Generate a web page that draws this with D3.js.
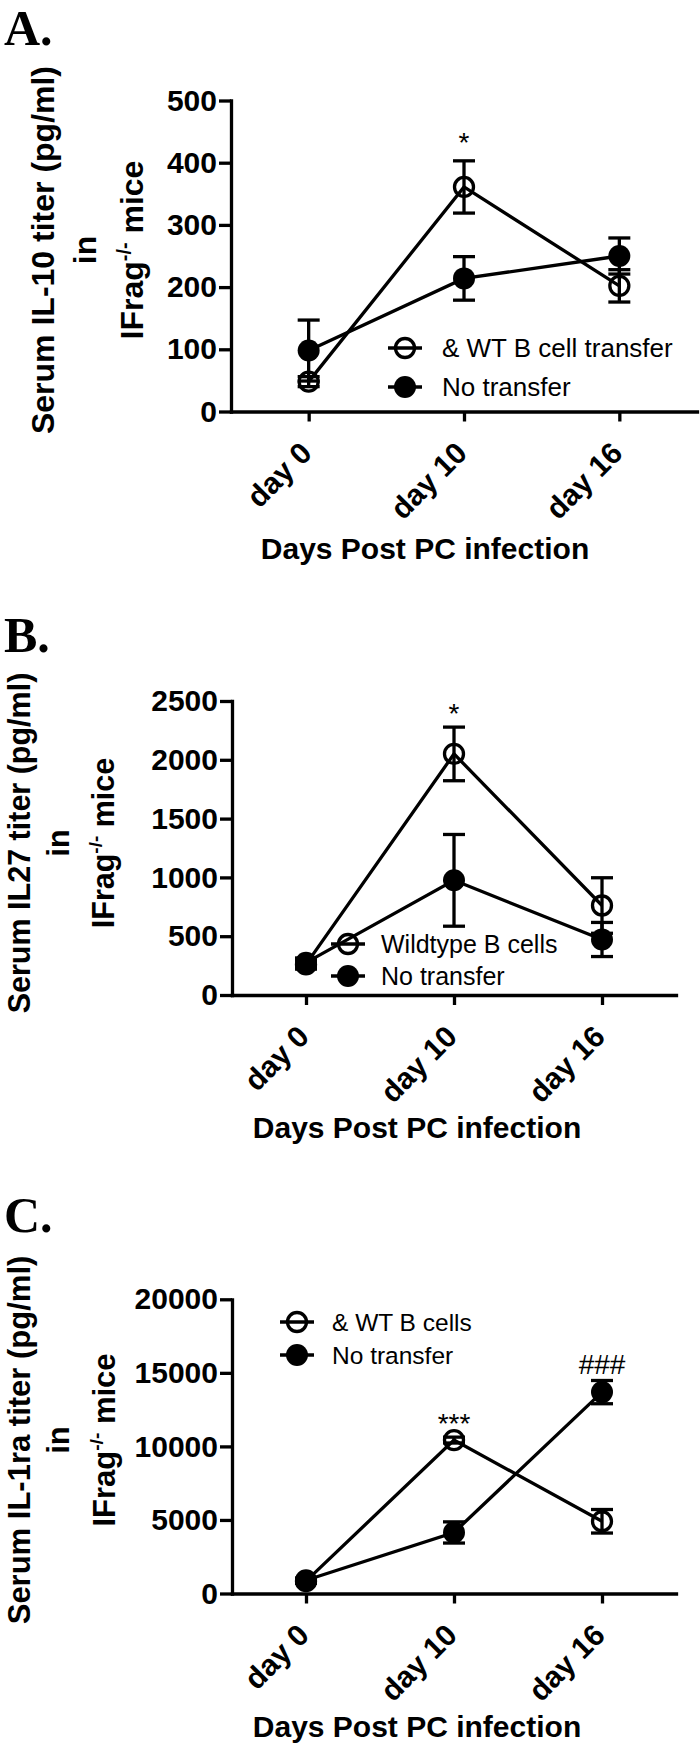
<!DOCTYPE html>
<html>
<head>
<meta charset="utf-8">
<script src="https://cdnjs.cloudflare.com/ajax/libs/d3/7.8.5/d3.min.js"></script>
<style>
body { margin: 0; background: #fff; }
svg { display: block; }
text { font-family: "Liberation Sans", Arial, sans-serif; fill: #000; }
.axis path, .axis line { stroke: #000; stroke-width: 3.3; }
.axis text { font-size: 30px; font-weight: bold; }
</style>
</head>
<body>
<svg width="700" height="1747"></svg>
<script>
var days = ["day 0", "day 10", "day 16"];

// A. serum IL-10
var il10Ticks = [0, 100, 200, 300, 400, 500];
var il10Wt = [48, 361, 202], il10WtErr = [8, 42, 26];
var il10No = [98, 214, 250], il10NoErr = [49, 35, 29];

// B. serum IL27
var il27Ticks = [0, 500, 1000, 1500, 2000, 2500];
var il27Wt = [260, 2050, 761], il27WtErr = [40, 228, 236];
var il27No = [275, 975, 472], il27NoErr = [40, 390, 145];

// C. serum IL-1ra
var il1raTicks = [0, 5000, 10000, 15000, 20000];
var il1raWt = [840, 10430, 4910], il1raWtErr = [150, 200, 800];
var il1raNo = [900, 4150, 13690], il1raNoErr = [150, 720, 790];

var svg = d3.select("svg");

function panel(o) {
    var g = svg.append("g");
    var x = d3.scalePoint().domain(days).range([o.x0, o.x1]).padding(0.5);
    var y = d3.scaleLinear().domain([0, d3.max(o.ticks)]).range([o.yb, o.yt]);

    // letter
    g.append("text")
        .attr("x", 4).attr("y", o.letterY)
        .style("font-family", "'Liberation Serif', 'Times New Roman', serif")
        .style("font-size", "50px").style("font-weight", "bold")
        .text(o.letter);

    // y title, three lines
    var lines = [o.yTitle, "in", null];
    lines.forEach(function(l, i) {
        var t = g.append("text")
            .attr("transform", "translate(" + o.titleX[i] + "," + o.titleY + ") rotate(-90)")
            .attr("text-anchor", "middle").attr("dy", "0.35em")
            .style("font-size", o.titleSize + "px").style("font-weight", "bold");
        if (l) t.text(l);
        else {
            t.append("tspan").text("IFrag");
            t.append("tspan").attr("dy", "-0.6em").style("font-size", "0.62em").text("-/-");
            t.append("tspan").attr("dy", "0.37em").text(" mice");
        }
    });

    // axes
    g.append("g").attr("class", "axis")
        .attr("transform", "translate(" + o.x0 + ",0)")
        .call(d3.axisLeft(y).tickValues(o.ticks).tickSize(12).tickSizeOuter(0).tickPadding(2).tickFormat(d3.format("d")));

    var xa = g.append("g").attr("class", "axis")
        .attr("transform", "translate(0," + o.yb + ")")
        .call(d3.axisBottom(x).tickSize(10).tickSizeOuter(0));
    xa.selectAll(".tick text")
        .attr("x", 0).attr("y", 0).attr("dy", "0.35em")
        .attr("text-anchor", "end")
        .attr("transform", "translate(-3,36) rotate(-45)");
    g.selectAll(".axis path.domain").attr("stroke-linecap", "square");

    g.append("text")
        .attr("x", o.xTitleX).attr("y", o.yb + o.xTitleGap)
        .attr("text-anchor", "middle")
        .style("font-size", "30px").style("font-weight", "bold")
        .text("Days Post PC infection");

    var series = [
        {vals: o.wt, err: o.wtErr, open: true},
        {vals: o.no, err: o.noErr, open: false}
    ];
    var line = d3.line()
        .x(function(d, i) { return x(days[i]); })
        .y(function(d) { return y(d); });

    series.forEach(function(s) {
        g.append("path").attr("d", line(s.vals))
            .attr("fill", "none").attr("stroke", "#000").attr("stroke-width", 3.3);
    });
    series.forEach(function(s) {
        s.vals.forEach(function(v, i) {
            var cx = x(days[i]), lo = y(v - s.err[i]), hi = y(v + s.err[i]);
            var eb = g.append("g").attr("stroke", "#000").attr("stroke-width", 3.3);
            eb.append("line").attr("x1", cx).attr("x2", cx).attr("y1", lo).attr("y2", hi);
            eb.append("line").attr("x1", cx - 11).attr("x2", cx + 11).attr("y1", lo).attr("y2", lo);
            eb.append("line").attr("x1", cx - 11).attr("x2", cx + 11).attr("y1", hi).attr("y2", hi);
        });
    });
    series.slice().reverse().forEach(function(s) {
        s.vals.forEach(function(v, i) {
            marker(g, x(days[i]), y(v), s.open);
        });
    });

    // significance marks
    o.marks.forEach(function(m) {
        var s = series[m.s];
        var top = s.vals[m.i] + s.err[m.i];
        g.append("text")
            .attr("x", x(days[m.i])).attr("y", y(top) - m.gap)
            .attr("text-anchor", "middle")
            .style("font-size", "28px")
            .text(m.text);
    });

    // legend
    [o.wtLabel, "No transfer"].forEach(function(lab, i) {
        var ly = o.legend.y[i];
        g.append("line")
            .attr("x1", o.legend.x - 17).attr("x2", o.legend.x + 17)
            .attr("y1", ly).attr("y2", ly)
            .attr("stroke", "#000").attr("stroke-width", 3.3);
        marker(g, o.legend.x, ly, i === 0);
        g.append("text")
            .attr("x", o.legend.tx).attr("y", ly).attr("dy", "0.35em")
            .style("font-size", o.legend.fs + "px")
            .text(lab);
    });
}

function marker(g, cx, cy, open) {
    if (open) {
        g.append("circle").attr("cx", cx).attr("cy", cy).attr("r", 9.5)
            .attr("fill", "none").attr("stroke", "#000").attr("stroke-width", 3.3);
    } else {
        g.append("circle").attr("cx", cx).attr("cy", cy).attr("r", 11).attr("fill", "#000");
    }
}

panel({
    letter: "A.", letterY: 45,
    x0: 231, x1: 697, yb: 411.5, yt: 100.5,
    ticks: il10Ticks,
    wt: il10Wt, wtErr: il10WtErr, no: il10No, noErr: il10NoErr,
    yTitle: "Serum IL-10 titer (pg/ml)", titleX: [43, 85, 132], titleY: 250, titleSize: 32,
    xTitleX: 425, xTitleGap: 147,
    wtLabel: "& WT B cell transfer",
    legend: {x: 405, y: [348, 387], tx: 442, fs: 26},
    marks: [{s: 0, i: 1, text: "*", gap: 9}]
});

panel({
    letter: "B.", letterY: 652,
    x0: 232, x1: 676, yb: 995, yt: 701,
    ticks: il27Ticks,
    wt: il27Wt, wtErr: il27WtErr, no: il27No, noErr: il27NoErr,
    yTitle: "Serum IL27 titer (pg/ml)", titleX: [19, 58, 103], titleY: 843, titleSize: 30.5,
    xTitleX: 417, xTitleGap: 143,
    wtLabel: "Wildtype B cells",
    legend: {x: 348, y: [944, 976], tx: 381, fs: 25},
    marks: [{s: 0, i: 1, text: "*", gap: 4}]
});

panel({
    letter: "C.", letterY: 1232,
    x0: 232, x1: 676, yb: 1593.5, yt: 1299.3,
    ticks: il1raTicks,
    wt: il1raWt, wtErr: il1raWtErr, no: il1raNo, noErr: il1raNoErr,
    yTitle: "Serum IL-1ra titer (pg/ml)", titleX: [19, 58, 104], titleY: 1440, titleSize: 31,
    xTitleX: 417, xTitleGap: 143,
    wtLabel: "& WT B cells",
    legend: {x: 297, y: [1322, 1355], tx: 332, fs: 24.5},
    marks: [{s: 0, i: 1, text: "***", gap: 4}, {s: 1, i: 2, text: "###", gap: 6}]
});
</script>
</body>
</html>
